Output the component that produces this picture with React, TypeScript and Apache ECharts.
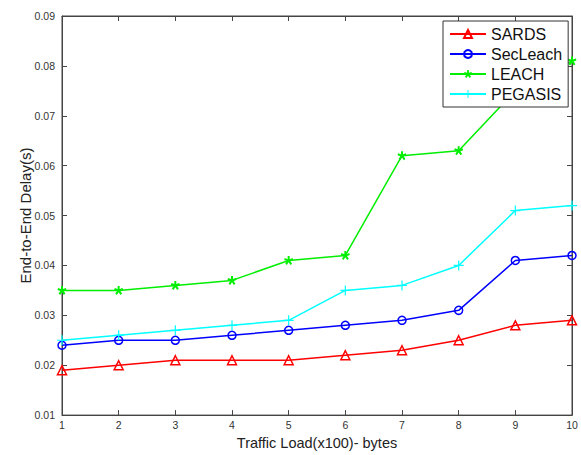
import React, { useEffect, useRef } from "react";
import * as echarts from "echarts";

const xValues = [1, 2, 3, 4, 5, 6, 7, 8, 9, 10];
const sards = [0.019, 0.02, 0.021, 0.021, 0.021, 0.022, 0.023, 0.025, 0.028, 0.029];
const secLeach = [0.024, 0.025, 0.025, 0.026, 0.027, 0.028, 0.029, 0.031, 0.041, 0.042];
const leach = [0.035, 0.035, 0.036, 0.037, 0.041, 0.042, 0.062, 0.063, 0.075, 0.081];
const pegasis = [0.025, 0.026, 0.027, 0.028, 0.029, 0.035, 0.036, 0.04, 0.051, 0.052];

const STAR = "path://M4,0L6,0L6,3L9,2L9.6,3.8L6.7,4.8L8.5,7.3L6.9,8.5L5,6L3.1,8.5L1.5,7.3L3.3,4.8L0.4,3.8L1,2L4,3Z";
const PLUS = "path://M4.4,0L5.6,0L5.6,4.4L10,4.4L10,5.6L5.6,5.6L5.6,10L4.4,10L4.4,5.6L0,5.6L0,4.4L4.4,4.4Z";

export default function App() {
  const ref = useRef<HTMLDivElement>(null);
  useEffect(() => {
    if (!ref.current) return;
    const chart = echarts.init(ref.current, undefined, { renderer: "svg" });
    const pts = (arr: number[]) => xValues.map((x, i) => [x, arr[i]]);
    const axisLineColor = "#444";
    const font = "Arial, 'Liberation Sans', sans-serif";
    const mkSeries = (name: string, data: number[], color: string, symbol: string, size: number, fill: boolean) => ({
      name,
      type: "line",
      data: pts(data),
      symbol,
      symbolSize: size,
      showSymbol: true,
      lineStyle: { color, width: 1.5 },
      itemStyle: { color: fill ? color : "transparent", borderColor: color, borderWidth: fill ? 0 : 1.5 },
      emphasis: { disabled: true },
    });
    chart.setOption({
      animation: false,
      backgroundColor: "#fff",
      grid: { left: 62, right: 9, top: 16, bottom: 35, show: true, borderColor: axisLineColor, borderWidth: 1 },
      legend: {
        orient: "vertical",
        left: 443,
        top: 21,
        width: 125,
        padding: [5, 6, 5, 6],
        itemGap: 4,
        itemWidth: 36,
        itemHeight: 10,
        backgroundColor: "#fff",
        borderColor: "#333",
        borderWidth: 1,
        textStyle: { fontFamily: font, fontSize: 16, color: "#111" },
        data: ["SARDS", "SecLeach", "LEACH", "PEGASIS"],
      },
      xAxis: [
        {
          type: "value",
          min: 1,
          max: 10,
          interval: 1,
          name: "Traffic Load(x100)- bytes",
          nameLocation: "middle",
          nameGap: 17,
          nameTextStyle: { fontFamily: font, fontSize: 14.5, color: "#222" },
          axisLine: { lineStyle: { color: axisLineColor } },
          axisTick: { inside: true, length: 5, lineStyle: { color: axisLineColor } },
          axisLabel: { fontFamily: font, fontSize: 10.5, color: "#333", margin: 4 },
          splitLine: { show: false },
        },
        {
          type: "value",
          position: "top",
          min: 1,
          max: 10,
          interval: 1,
          axisLine: { lineStyle: { color: axisLineColor } },
          axisTick: { inside: true, length: 5, lineStyle: { color: axisLineColor } },
          axisLabel: { show: false },
          splitLine: { show: false },
        },
      ],
      yAxis: [
        {
          type: "value",
          min: 0.01,
          max: 0.09,
          interval: 0.01,
          name: "End-to-End Delay(s)",
          nameLocation: "middle",
          nameGap: 29,
          nameMoveOverlap: false,
          nameTextStyle: { fontFamily: font, fontSize: 15, color: "#222" },
          axisLine: { show: true, lineStyle: { color: axisLineColor } },
          axisTick: { show: true, inside: true, length: 5, lineStyle: { color: axisLineColor } },
          axisLabel: { fontFamily: font, fontSize: 10.5, color: "#333", margin: 7, formatter: (v: number) => v.toFixed(2) },
          splitLine: { show: false },
        },
        {
          type: "value",
          position: "right",
          min: 0.01,
          max: 0.09,
          interval: 0.01,
          axisLine: { show: true, lineStyle: { color: axisLineColor } },
          axisTick: { show: true, inside: true, length: 5, lineStyle: { color: axisLineColor } },
          axisLabel: { show: false },
          splitLine: { show: false },
        },
      ],
      series: [
        mkSeries("SARDS", sards, "#ff0000", "triangle", 9, false),
        mkSeries("SecLeach", secLeach, "#0000ff", "circle", 8, false),
        mkSeries("LEACH", leach, "#00ee00", STAR, 9, true),
        mkSeries("PEGASIS", pegasis, "#00ffff", PLUS, 10, true),
      ],
    });
    return () => chart.dispose();
  }, []);
  return <div ref={ref} style={{ width: 581, height: 455, position: "absolute", left: 0, top: 0 }} />;
}
